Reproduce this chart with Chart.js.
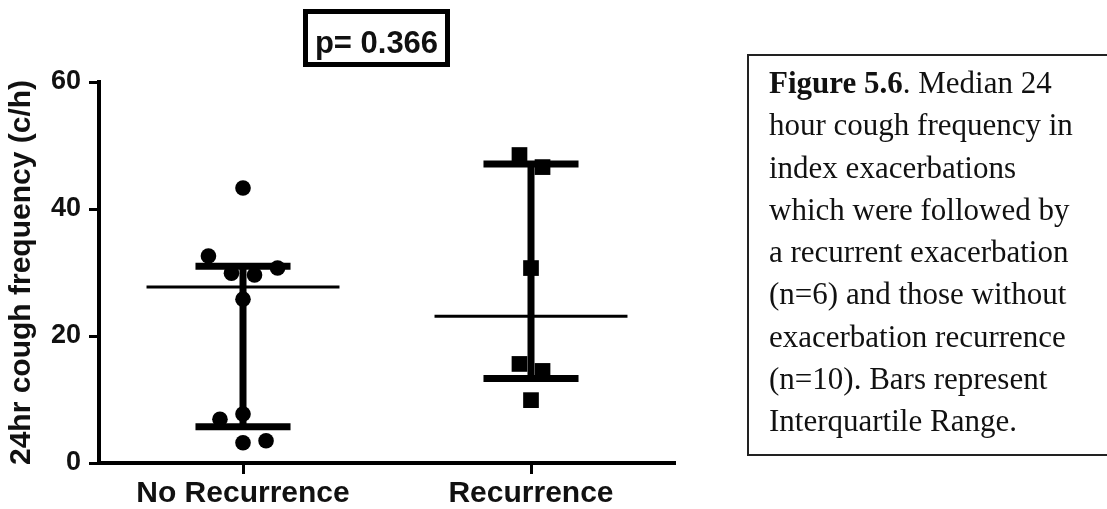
<!DOCTYPE html>
<html>
<head>
<meta charset="utf-8">
<script src="https://cdn.jsdelivr.net/npm/chart.js@4/dist/chart.umd.min.js"></script>
<style>
  html, body { margin: 0; padding: 0; background: #fff; overflow: hidden; }
  #wrap { position: relative; width: 1107px; height: 509px; overflow: hidden; }
  #grafica { position: absolute; left: 0; top: 0; }
  .p-box {
    position: absolute; left: 303px; top: 9px; width: 147px; height: 58px;
    box-sizing: border-box; border: 5px solid #000;
    font: bold 31px 'Liberation Sans', Arial, sans-serif; color: #111;
    text-align: center; padding-top: 5px; line-height: 48px;
  }
  .caption {
    position: absolute; left: 747px; top: 54px; width: 420px; height: 402px;
    box-sizing: border-box; border: 2px solid #222;
    padding: 6px 0 0 20px;
    font: 31px 'Liberation Serif', 'Times New Roman', serif; color: #111;
    line-height: 42.3px; white-space: nowrap;
  }
</style>
</head>
<body>
<div id="wrap">
  <canvas id="grafica" width="1107" height="509"></canvas>
  <div class="p-box">p= 0.366</div>
  <div class="caption">
    <b>Figure 5.6</b>. Median 24<br>
    hour cough frequency in<br>
    index exacerbations<br>
    which were followed by<br>
    a recurrent exacerbation<br>
    (n=6) and those without<br>
    exacerbation recurrence<br>
    (n=10). Bars represent<br>
    Interquartile Range.
  </div>
</div>

<script>
// ---- datos ----
var categorias = ['No Recurrence', 'Recurrence'];

// valores individuales (c/h) y desplazamiento horizontal (jitter, en unidades de categoría)
var noRecValores = [43.3, 32.6, 30.7, 29.9, 29.6, 25.8, 7.7, 6.9, 3.2, 3.5];
var noRecJitter  = [0, -0.12, 0.12, -0.04, 0.04, 0, 0, -0.08, 0, 0.08];
var recValores   = [48.5, 46.6, 30.7, 15.6, 14.5, 9.9];
var recJitter    = [-0.04, 0.04, 0, -0.04, 0.04, 0];

// mediana y rango intercuartil por grupo
var medianas = [27.7, 23.1];
var q1 = [5.7, 13.3];
var q3 = [31.0, 47.1];

var yTicks = [0, 20, 40, 60];

// ---- estilo ----
var FUENTE = "'Liberation Sans', Arial, sans-serif";
var capHalf = 0.165;   // media anchura de las barras del IQR
var medHalf = 0.335;   // media anchura de la línea de mediana

function puntos(valores, jitter, centro) {
  return valores.map(function(v, i) { return { x: centro + jitter[i], y: v }; });
}

function lineaDs(data, ancho) {
  return {
    type: 'scatter',
    data: data,
    showLine: true,
    borderColor: '#000',
    borderWidth: ancho,
    borderCapStyle: 'butt',
    pointRadius: 0,
    fill: false
  };
}

var datasets = [];

// barras de IQR y mediana
categorias.forEach(function(c, i) {
  datasets.push(lineaDs([{ x: i, y: q1[i] }, { x: i, y: q3[i] }], 7));
  datasets.push(lineaDs([{ x: i - capHalf, y: q3[i] }, { x: i + capHalf, y: q3[i] }], 7));
  datasets.push(lineaDs([{ x: i - capHalf, y: q1[i] }, { x: i + capHalf, y: q1[i] }], 7));
  datasets.push(lineaDs([{ x: i - medHalf, y: medianas[i] }, { x: i + medHalf, y: medianas[i] }], 3));
});

// puntos individuales
datasets.push({
  type: 'scatter',
  data: puntos(noRecValores, noRecJitter, 0),
  pointStyle: 'circle',
  pointRadius: 7.8,
  backgroundColor: '#000',
  borderWidth: 0
});
datasets.push({
  type: 'scatter',
  data: puntos(recValores, recJitter, 1),
  pointStyle: 'rect',
  pointRadius: 11.1,
  backgroundColor: '#000',
  borderWidth: 0
});

new Chart(document.getElementById('grafica'), {
  type: 'scatter',
  data: { datasets: datasets },
  options: {
    responsive: false,
    animation: false,
    events: [],
    layout: { padding: { top: 82, right: 432, bottom: 0, left: 0 } },
    plugins: { legend: { display: false }, tooltip: { enabled: false } },
    scales: {
      x: {
        type: 'linear',
        min: -0.5,
        max: 1.5,
        afterBuildTicks: function(s) { s.ticks = [{ value: 0 }, { value: 1 }]; },
        afterFit: function(s) { s.height = 46; },
        border: { display: true, color: '#000', width: 4 },
        grid: { drawOnChartArea: false, tickLength: 11, tickWidth: 3, tickColor: '#000' },
        ticks: {
          color: '#111',
          padding: 2,
          maxRotation: 0,
          font: { family: FUENTE, size: 30, weight: 'bold' },
          callback: function(v) { return categorias[v]; }
        }
      },
      y: {
        min: 0,
        max: 60,
        afterBuildTicks: function(s) { s.ticks = yTicks.map(function(v) { return { value: v }; }); },
        afterFit: function(s) { s.width = 99; },
        border: { display: true, color: '#000', width: 4 },
        grid: { drawOnChartArea: false, tickLength: 10, tickWidth: 3, tickColor: '#000' },
        ticks: {
          color: '#111',
          padding: 8,
          font: { family: FUENTE, size: 27, weight: 'bold' }
        },
        title: {
          display: true,
          text: '24hr cough frequency (c/h)',
          color: '#111',
          padding: { top: 4, bottom: 4 },
          font: { family: FUENTE, size: 30, weight: 'bold' }
        }
      }
    }
  }
});
</script>
</body>
</html>
